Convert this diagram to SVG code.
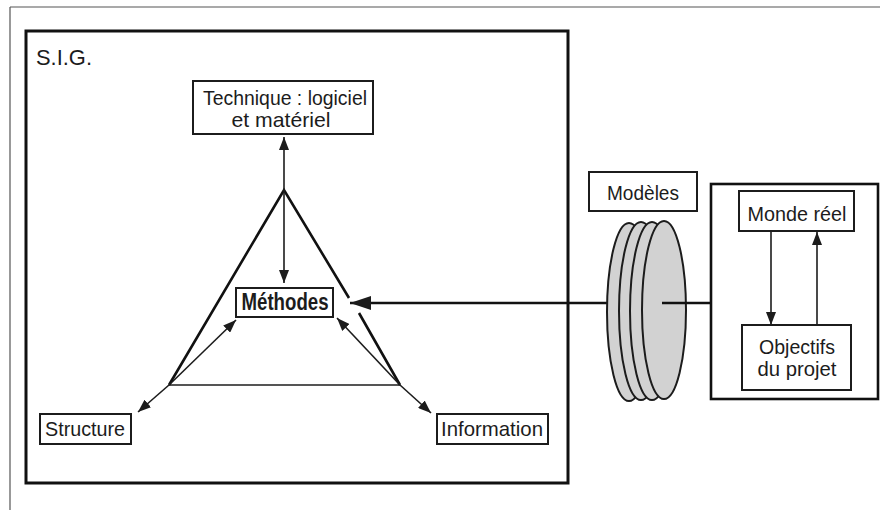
<svg xmlns="http://www.w3.org/2000/svg" width="880" height="510" viewBox="0 0 880 510">
<defs>
<style>
.t{font-family:"Liberation Sans","DejaVu Sans",Arial,sans-serif;fill:#1c1c1c;text-anchor:middle;font-size:21px}
.box{fill:#fff;stroke:#1c1c1c;stroke-width:2}
.ln{stroke:#1c1c1c;stroke-width:1.6;fill:none}
.disk{fill:#d2d2d2;stroke:#1c1c1c;stroke-width:2}
</style>
<marker id="ah" markerUnits="userSpaceOnUse" markerWidth="14" markerHeight="10" refX="13" refY="5" orient="auto">
<path d="M0,0 L13,5 L0,10 Z" fill="#1c1c1c"/>
</marker>
<marker id="big" markerUnits="userSpaceOnUse" markerWidth="22" markerHeight="16" refX="21" refY="8" orient="auto">
<path d="M0,1 L21,8 L0,15 Z" fill="#1c1c1c"/>
</marker>
</defs>
<rect width="880" height="510" fill="#fff"/>
<g id="frame">
<path d="M10,7 H880 M10,7 V510" stroke="#555" stroke-width="1.2" fill="none"/>
</g>
<g id="sig">
<rect x="26" y="31" width="542" height="452" fill="none" stroke="#111" stroke-width="3"/>
<text class="t" x="36" y="65" style="text-anchor:start;font-size:22px" textLength="56" lengthAdjust="spacingAndGlyphs">S.I.G.</text>
</g>
<g id="triangle">
<path d="M169,385 L284,190 L349,298 M359,313 L400,385" fill="none" stroke="#111" stroke-width="2.6"/>
<path d="M169,385 H400" class="ln"/>
</g>
<g id="connectors">
<line class="ln" x1="284" y1="190" x2="284" y2="137" marker-end="url(#ah)"/>
<line class="ln" x1="284" y1="190" x2="284" y2="283" marker-end="url(#ah)"/>
<line class="ln" x1="169" y1="385" x2="236" y2="320" marker-end="url(#ah)"/>
<line class="ln" x1="169" y1="385" x2="138" y2="412" marker-end="url(#ah)"/>
<line class="ln" x1="400" y1="385" x2="337" y2="318" marker-end="url(#ah)"/>
<line class="ln" x1="400" y1="385" x2="431" y2="413" marker-end="url(#ah)"/>
<line x1="610" y1="303" x2="350" y2="303" stroke="#111" stroke-width="2.6" marker-end="url(#big)"/>
<line class="ln" x1="771" y1="231" x2="771" y2="325" marker-end="url(#ah)"/>
<line class="ln" x1="817" y1="325" x2="817" y2="232" marker-end="url(#ah)"/>
</g>
<g id="technique">
<rect class="box" x="193" y="81" width="180" height="53"/>
<text class="t" x="285" y="105" textLength="164" lengthAdjust="spacingAndGlyphs">Technique : logiciel</text>
<text class="t" x="281" y="127" textLength="99" lengthAdjust="spacingAndGlyphs">et matériel</text>
</g>
<g id="methodes">
<rect class="box" x="236" y="288" width="97" height="29"/>
<text class="t" x="285" y="310" style="font-weight:bold;font-size:23px" textLength="87" lengthAdjust="spacingAndGlyphs">Méthodes</text>
</g>
<g id="structure">
<rect class="box" x="40" y="414" width="91" height="30"/>
<text class="t" x="85" y="436" textLength="80" lengthAdjust="spacingAndGlyphs">Structure</text>
</g>
<g id="information">
<rect class="box" x="437" y="414" width="111" height="30"/>
<text class="t" x="492" y="436" textLength="102" lengthAdjust="spacingAndGlyphs">Information</text>
</g>
<g id="modeles">
<rect class="box" x="589" y="172" width="108" height="39"/>
<text class="t" x="643" y="200" textLength="72" lengthAdjust="spacingAndGlyphs">Modèles</text>
<ellipse class="disk" cx="629" cy="312" rx="22" ry="89"/>
<ellipse class="disk" cx="641" cy="311" rx="22" ry="89"/>
<ellipse class="disk" cx="652" cy="311" rx="22" ry="89"/>
<ellipse class="disk" cx="664" cy="310" rx="22" ry="89"/>
<line x1="662" y1="303" x2="711" y2="303" stroke="#111" stroke-width="2.6"/>
</g>
<g id="monde">
<rect x="711" y="184" width="167" height="215" fill="none" stroke="#111" stroke-width="2.6"/>
</g>
<g id="monde-reel">
<rect class="box" x="739" y="191" width="115" height="40"/>
<text class="t" x="797" y="221" textLength="99" lengthAdjust="spacingAndGlyphs">Monde réel</text>
</g>
<g id="objectifs">
<rect class="box" x="742" y="325" width="109" height="65"/>
<text class="t" x="797" y="354" textLength="76" lengthAdjust="spacingAndGlyphs">Objectifs</text>
<text class="t" x="797" y="376" textLength="79" lengthAdjust="spacingAndGlyphs">du projet</text>
</g>
</svg>
